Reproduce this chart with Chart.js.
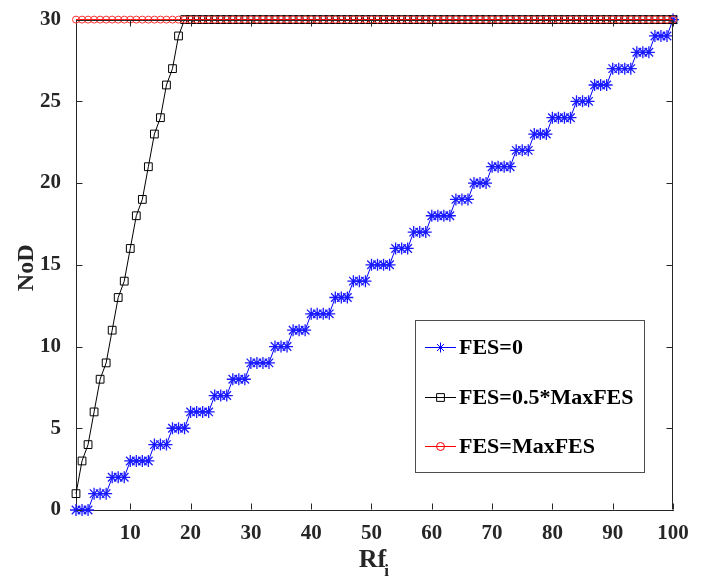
<!DOCTYPE html>
<html>
<head>
<meta charset="utf-8">
<script src="https://cdn.jsdelivr.net/npm/chart.js@4.4.0/dist/chart.umd.min.js"></script>
<style>
  html, body { margin: 0; padding: 0; background: #fff; }
</style>
</head>
<body>
<canvas id="nod-chart" width="713" height="576"></canvas>
<script>
// x positions (Rf_i index)
const rfIndex = [
  1, 2, 3, 4, 5, 6, 7, 8, 9, 10,
  11, 12, 13, 14, 15, 16, 17, 18, 19, 20,
  21, 22, 23, 24, 25, 26, 27, 28, 29, 30,
  31, 32, 33, 34, 35, 36, 37, 38, 39, 40,
  41, 42, 43, 44, 45, 46, 47, 48, 49, 50,
  51, 52, 53, 54, 55, 56, 57, 58, 59, 60,
  61, 62, 63, 64, 65, 66, 67, 68, 69, 70,
  71, 72, 73, 74, 75, 76, 77, 78, 79, 80,
  81, 82, 83, 84, 85, 86, 87, 88, 89, 90,
  91, 92, 93, 94, 95, 96, 97, 98, 99, 100
];

// FES=0
const nodFes0 = [
  0, 0, 0, 1, 1, 1, 2, 2, 2, 3,
  3, 3, 3, 4, 4, 4, 5, 5, 5, 6,
  6, 6, 6, 7, 7, 7, 8, 8, 8, 9,
  9, 9, 9, 10, 10, 10, 11, 11, 11, 12,
  12, 12, 12, 13, 13, 13, 14, 14, 14, 15,
  15, 15, 15, 16, 16, 16, 17, 17, 17, 18,
  18, 18, 18, 19, 19, 19, 20, 20, 20, 21,
  21, 21, 21, 22, 22, 22, 23, 23, 23, 24,
  24, 24, 24, 25, 25, 25, 26, 26, 26, 27,
  27, 27, 27, 28, 28, 28, 29, 29, 29, 30
];

// FES=0.5*MaxFES
const nodFesHalf = [
  1, 3, 4, 6, 8, 9, 11, 13, 14, 16,
  18, 19, 21, 23, 24, 26, 27, 29, 30, 30,
  30, 30, 30, 30, 30, 30, 30, 30, 30, 30,
  30, 30, 30, 30, 30, 30, 30, 30, 30, 30,
  30, 30, 30, 30, 30, 30, 30, 30, 30, 30,
  30, 30, 30, 30, 30, 30, 30, 30, 30, 30,
  30, 30, 30, 30, 30, 30, 30, 30, 30, 30,
  30, 30, 30, 30, 30, 30, 30, 30, 30, 30,
  30, 30, 30, 30, 30, 30, 30, 30, 30, 30,
  30, 30, 30, 30, 30, 30, 30, 30, 30, 30
];

// FES=MaxFES
const nodFesMax = [
  30, 30, 30, 30, 30, 30, 30, 30, 30, 30,
  30, 30, 30, 30, 30, 30, 30, 30, 30, 30,
  30, 30, 30, 30, 30, 30, 30, 30, 30, 30,
  30, 30, 30, 30, 30, 30, 30, 30, 30, 30,
  30, 30, 30, 30, 30, 30, 30, 30, 30, 30,
  30, 30, 30, 30, 30, 30, 30, 30, 30, 30,
  30, 30, 30, 30, 30, 30, 30, 30, 30, 30,
  30, 30, 30, 30, 30, 30, 30, 30, 30, 30,
  30, 30, 30, 30, 30, 30, 30, 30, 30, 30,
  30, 30, 30, 30, 30, 30, 30, 30, 30, 30
];

const seriesLabels = ["FES=0", "FES=0.5*MaxFES", "FES=MaxFES"];
const xTicks = [10, 20, 30, 40, 50, 60, 70, 80, 90, 100];
const yTicks = [0, 5, 10, 15, 20, 25, 30];

const AXIS_COLOR = "#262626";
const SERIF = "'Liberation Serif', 'Times New Roman', serif";

function toPoints(ys) {
  return rfIndex.map((x, i) => ({ x: x, y: ys[i] }));
}

// inward ticks + full box, matlab style
const boxTicks = {
  id: "boxTicks",
  afterDatasetsDraw(chart) {
    const { ctx, chartArea: a, scales } = chart;
    const L = Math.round(a.left) + 0.5, R = Math.round(a.right) - 0.5;
    const T = Math.round(a.top) + 0.5, B = Math.round(a.bottom) - 0.5;
    ctx.save();
    ctx.strokeStyle = AXIS_COLOR;
    ctx.lineWidth = 1;
    ctx.beginPath();
    ctx.moveTo(L, T); ctx.lineTo(R, T);
    ctx.moveTo(R, T); ctx.lineTo(R, B);
    xTicks.forEach((v) => {
      const px = Math.round(scales.x.getPixelForValue(v)) + 0.5;
      ctx.moveTo(px, B); ctx.lineTo(px, B - 6);
      ctx.moveTo(px, T); ctx.lineTo(px, T + 6);
    });
    yTicks.forEach((v) => {
      const py = Math.round(scales.y.getPixelForValue(v)) + 0.5;
      ctx.moveTo(L, py); ctx.lineTo(L + 6, py);
      ctx.moveTo(R, py); ctx.lineTo(R - 6, py);
    });
    ctx.stroke();
    ctx.restore();
  }
};

// axis titles (Rf with subscript i)
const axisTitles = {
  id: "axisTitles",
  afterDraw(chart) {
    const { ctx, chartArea: a } = chart;
    ctx.save();
    ctx.fillStyle = AXIS_COLOR;
    ctx.font = "bold 26px " + SERIF;
    ctx.textBaseline = "alphabetic";
    const main = "Rf";
    const w = ctx.measureText(main).width;
    const cx = (a.left + a.right) / 2;
    ctx.fillText(main, cx - w / 2 - 2, 567);
    ctx.font = "bold 17px " + SERIF;
    ctx.fillText("i", cx - w / 2 - 2 + w - 2, 576);

    ctx.translate(27, (a.top + a.bottom) / 2 + 3);
    ctx.rotate(-Math.PI / 2);
    ctx.font = "bold 24px " + SERIF;
    ctx.textAlign = "center";
    ctx.textBaseline = "middle";
    ctx.fillText("NoD", 0, 0);
    ctx.restore();
  }
};

// legend box inside the plot
const boxLegend = {
  id: "boxLegend",
  afterDraw(chart) {
    const ctx = chart.ctx;
    const rows = [347, 397, 446];
    ctx.save();
    ctx.fillStyle = "#fff";
    ctx.fillRect(415.5, 320.5, 229, 152);
    ctx.strokeStyle = "#4d4d4d";
    ctx.lineWidth = 1;
    ctx.strokeRect(415.5, 320.5, 229, 152);
    chart.data.datasets.forEach((ds, i) => {
      const y = rows[i] + 0.5;
      ctx.strokeStyle = ds.borderColor;
      ctx.lineWidth = 1;
      ctx.beginPath();
      ctx.moveTo(425, y); ctx.lineTo(456, y);
      ctx.stroke();
      ctx.fillStyle = "rgba(0,0,0,0)";
      Chart.helpers.drawPoint(ctx, {
        pointStyle: ds.pointStyle,
        rotation: 0,
        radius: ds.legendRadius,
        borderWidth: 1
      }, 440.5, y);
      ctx.fillStyle = "#000";
      ctx.font = "bold 22px " + SERIF;
      ctx.textBaseline = "middle";
      ctx.fillText(seriesLabels[i], 459, y + 1);
    });
    ctx.restore();
  }
};

const nodChart = new Chart(document.getElementById("nod-chart").getContext("2d"), {
  type: "line",
  data: {
    datasets: [
      {
        label: seriesLabels[0],
        data: toPoints(nodFes0),
        borderColor: "#0000ff",
        pointBorderColor: "#1a1aff",
        pointBackgroundColor: "rgba(0,0,0,0)",
        pointStyle: "star",
        pointRadius: 6,
        legendRadius: 5,
        borderWidth: 1,
        pointBorderWidth: 1.3,
        order: 2
      },
      {
        label: seriesLabels[1],
        data: toPoints(nodFesHalf),
        borderColor: "#000000",
        pointBorderColor: "#000000",
        pointBackgroundColor: "rgba(0,0,0,0)",
        pointStyle: "rect",
        pointRadius: 5.5,
        legendRadius: 5.5,
        borderWidth: 1,
        pointBorderWidth: 1,
        order: 1
      },
      {
        label: seriesLabels[2],
        data: toPoints(nodFesMax),
        borderColor: "#ff0000",
        pointBorderColor: "#ff3030",
        pointBackgroundColor: "rgba(0,0,0,0)",
        pointStyle: "circle",
        pointRadius: 3.5,
        legendRadius: 4,
        borderWidth: 1,
        pointBorderWidth: 1,
        order: 0
      }
    ]
  },
  options: {
    responsive: false,
    animation: false,
    devicePixelRatio: 1,
    clip: false,
    layout: { padding: { top: 15, right: 40, left: 0, bottom: 0 } },
    plugins: {
      legend: { display: false },
      tooltip: { enabled: false }
    },
    elements: { line: { tension: 0 } },
    scales: {
      x: {
        type: "linear",
        min: 1,
        max: 100,
        afterBuildTicks: (s) => { s.ticks = xTicks.map((v) => ({ value: v })); },
        afterFit: (s) => { s.height = 66; },
        grid: { display: false },
        border: { display: true, color: AXIS_COLOR, width: 1 },
        ticks: {
          color: AXIS_COLOR,
          padding: 3,
          maxRotation: 0,
          font: { family: SERIF, size: 21, weight: "bold" }
        }
      },
      y: {
        type: "linear",
        min: 0,
        max: 30,
        afterBuildTicks: (s) => { s.ticks = yTicks.map((v) => ({ value: v })); },
        afterFit: (s) => { s.width = 76; },
        grid: { display: false },
        border: { display: true, color: AXIS_COLOR, width: 1 },
        ticks: {
          color: AXIS_COLOR,
          padding: 7,
          font: { family: SERIF, size: 21, weight: "bold" }
        }
      }
    }
  },
  plugins: [boxTicks, axisTitles, boxLegend]
});
</script>
</body>
</html>
